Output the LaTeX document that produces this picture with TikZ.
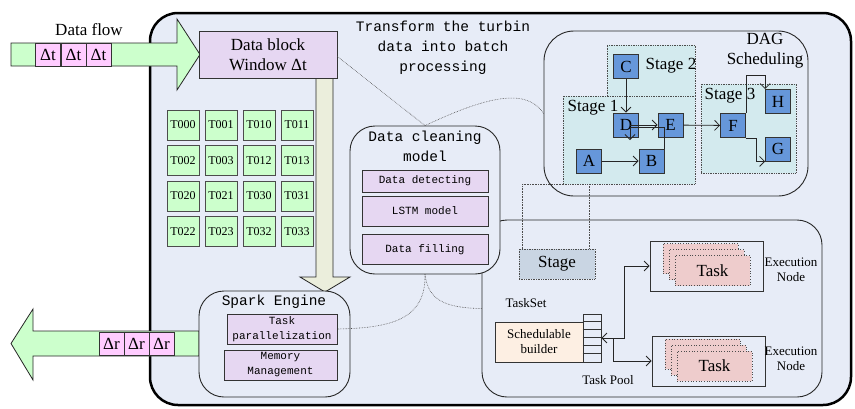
\documentclass[tikz,border=0pt]{standalone}
\usepackage{fontspec}
\setmainfont{Liberation Serif}
\setmonofont{Liberation Mono}
\usetikzlibrary{arrows.meta,positioning,calc}

\definecolor{bgblue}{RGB}{231,236,247}
\definecolor{flowgreen}{RGB}{204,255,204}
\definecolor{cellpink}{RGB}{255,204,255}
\definecolor{blocklilac}{RGB}{230,215,242}
\definecolor{downbeige}{RGB}{235,238,220}
\definecolor{stageteal}{RGB}{211,234,238}
\definecolor{dagblue}{RGB}{102,151,218}
\definecolor{stagegray}{RGB}{201,213,227}
\definecolor{builderpeach}{RGB}{253,239,227}
\definecolor{taskpink}{RGB}{238,204,204}

\tikzset{
  bigfont/.style={font=\fontsize{17}{20}\selectfont},
  smallfont/.style={font=\fontsize{13}{15}\selectfont},
  monofont/.style={font=\ttfamily\fontsize{14.5}{20}\selectfont},
  smallmono/.style={font=\ttfamily\fontsize{11}{15}\selectfont},
  box/.style={draw=black!80,line width=0.8pt,inner sep=1pt},
  container/.style={draw=black!85,line width=0.9pt,fill=bgblue,rounded corners=25pt},
  lilacbox/.style={box,fill=blocklilac,smallmono,align=center},
  dcell/.style={box,fill=cellpink,minimum width=25pt,minimum height=23pt,bigfont},
  tcell/.style={box,draw=black!70,fill=flowgreen,minimum width=32pt,minimum height=30pt,inner sep=0pt,font=\fontsize{12}{14}\selectfont},
  dagnode/.style={box,fill=dagblue,minimum width=25pt,minimum height=24pt,inner sep=0pt,bigfont},
  stagearea/.style={draw=gray!60!black,densely dotted,fill=stageteal,line width=0.7pt},
  tasksheet/.style={draw=black!70,dotted,fill=taskpink,line width=0.7pt,minimum width=75pt,minimum height=30pt,bigfont},
  dagarrow/.style={-{Straight Barb[length=5pt,width=10pt]},line width=0.8pt,draw=black!85},
  dotline/.style={densely dotted,draw=gray!60!black,line width=0.6pt}
}

\begin{document}
\begin{tikzpicture}[x=1pt,y=-1pt]
\useasboundingbox (0,0) rectangle (855,408);
% frame
\draw[line width=2.5pt,fill=bgblue,rounded corners=28pt] (150,13) rectangle (851,405);

% incoming data flow
\draw[fill=flowgreen,line width=0.8pt,draw=black!85] (11,43) -- (177,43) -- (177,19) -- (200,54.5) -- (177,90) -- (177,66) -- (11,66) -- cycle;
\foreach \k/\x in {1/48,2/73.5,3/98.5}{
  \node[dcell] (dt\k) at (\x,54.5) {Δt};}
\node[bigfont] (flowlbl) at (89,30) {Data flow};

% outgoing results
\draw[fill=flowgreen,line width=0.8pt,draw=black!85] (199,331) -- (33,331) -- (33,309) -- (11,343.5) -- (33,380) -- (33,356) -- (199,356) -- cycle;
\foreach \k/\x in {1/111.5,2/136.5,3/161.5}{
  \node[dcell] (dr\k) at (\x,343.5) {Δr};}

% batch into the engine
\draw[fill=downbeige,line width=0.8pt,draw=black!85] (316,78) -- (333,78) -- (333,277) -- (350,277) -- (325,292) -- (300,277) -- (316,277) -- cycle;
\node[box,fill=blocklilac,minimum width=138pt,minimum height=47pt,align=center,font=\fontsize{17}{20}\selectfont] (block) at (268,54.5) {Data block\\Window Δt};

% partitions
\foreach \lbl [count=\n from 0] in {T000,T001,T010,T011,T002,T003,T012,T013,T020,T021,T030,T031,T022,T023,T032,T033}{
  \pgfmathtruncatemacro{\c}{mod(\n,4)}
  \pgfmathtruncatemacro{\r}{div(\n,4)}
  \node[tcell] (\lbl) at (183+38*\c,125+35.5*\r) {\lbl};}

\node[monofont,align=center] (transform) at (443,48) {Transform the turbin\\data into batch\\processing};

% DAG scheduling
\node[container,rounded corners=30pt,minimum width=264pt,minimum height=165pt] (dag) at (676,113.5) {};
\node[bigfont,align=center] (daglbl) at (765,51) {DAG\\Scheduling};
\node[stagearea,minimum width=88pt,minimum height=51pt] (stagetwo) at (651,70.5) {};
\node[stagearea,minimum width=132pt,minimum height=88pt] (stageone) at (629,140) {};
\node[stagearea,minimum width=95pt,minimum height=89pt] (stagethree) at (748.5,128.5) {};
\node[bigfont] (s2lbl) at (671,66) {Stage 2};
\node[bigfont] (s1lbl) at (593,108) {Stage 1};
\node[bigfont] (s3lbl) at (730,96) {Stage 3};
\node[dagnode] (C) at (626,66.5) {C};
\node[dagnode] (D) at (626,125) {D};
\node[dagnode] (E) at (670.5,125) {E};
\node[dagnode] (A) at (589,161) {A};
\node[dagnode] (B) at (651.5,161) {B};
\node[dagnode] (F) at (733,125.5) {F};
\node[dagnode] (H) at (778,101.5) {H};
\node[dagnode] (G) at (778,149) {G};
\draw[dagarrow] (C) -- (D);
\draw[dagarrow] (A) -- (B);
\draw[dagarrow] ($(D.center)+(4,0)$) -- (E);
\draw[dagarrow] (B.north east) |- ($(D.center)+(4,2)$) -- ($(D.center)+(4,15)$);
\draw[dagarrow] (E) -- (F);
\draw[dagarrow] (F.north east) |- ($(H.north west)+(0,-14)$) -- (H.north west);
\draw[dagarrow] (F.south east) -- ++(10,0) |- (G.south west);

% task scheduler
\node[container,minimum width=340pt,minimum height=177pt] (sched) at (652,308.5) {};
\node[draw=gray!60!black,densely dotted,line width=0.7pt,fill=stagegray,minimum width=76pt,minimum height=30pt,bigfont] (stage) at (557,264) {Stage};
\draw[dotline] (stageone.south west) -| ([xshift=4pt]stage.north west);
\draw[dotline] ([xshift=-6pt]stage.north east) -- ([xshift=-6pt]stage.north east |- stageone.south);
\node[smallfont] (tasksetlbl) at (526,303) {TaskSet};
\node[box,fill=builderpeach,minimum width=88pt,minimum height=40pt,align=center,smallfont] (builder) at (539,342) {Schedulable\\builder};
\node[box,minimum width=18pt,minimum height=48pt] (pool) at (592,338) {};
\foreach \k in {1,...,5}
  \draw[line width=0.8pt,draw=black!80] ($(pool.north west)+(0,8*\k)$) -- ($(pool.north east)+(0,8*\k)$);
\node[smallfont] (poollbl) at (608,380) {Task Pool};
\node[box,minimum width=113pt,minimum height=50pt] (execone) at (706.5,266) {};
\node[box,minimum width=113pt,minimum height=50pt] (exectwo) at (708.5,361) {};
\foreach \k in {0,1}{
  \node[tasksheet] (upsheet\k) at (700.5+6*\k,258.5+6*\k) {};
  \node[tasksheet] (lowsheet\k) at (702.5+6*\k,354+6*\k) {};}
\node[tasksheet] (uptask) at (712.5,270.5) {Task};
\node[tasksheet] (lowtask) at (714.5,366) {Task};
\node[smallfont,align=center] (exonelbl) at (791,269.5) {Execution\\Node};
\node[smallfont,align=center] (extwolbl) at (791,359) {Execution\\Node};
\draw[dagarrow,{Straight Barb[length=5pt,width=10pt]}-{Straight Barb[length=5pt,width=10pt]}] (pool.east) -- ++(23,0) |- (execone.west);
\draw[dagarrow] ([xshift=12pt]pool.east) |- (exectwo.west);

% data cleaning
\node[container,minimum width=150pt,minimum height=148pt] (clean) at (425,200) {};
\node[monofont,align=center] (cleanlbl) at (425,146) {Data cleaning\\model};
\node[lilacbox,minimum width=126pt,minimum height=22pt] (detect) at (425,181) {Data detecting};
\node[lilacbox,minimum width=126pt,minimum height=30pt] (lstm) at (425,211) {LSTM model};
\node[lilacbox,minimum width=126pt,minimum height=30pt] (filling) at (425,249.5) {Data filling};

% spark engine
\node[container,minimum width=151pt,minimum height=106pt] (spark) at (274.5,344) {};
\node[monofont] (sparklbl) at (274,302) {Spark Engine};
\node[lilacbox,minimum width=110pt,minimum height=30pt] (taskpar) at (282,329) {Task\\parallelization};
\node[lilacbox,minimum width=113pt,minimum height=30pt] (memory) at (280.5,365) {Memory\\Management};

% dotted links
\draw[dotline] ([yshift=-2pt]block.east) -- (clean.north);
\draw[dotline] (clean.north) .. controls (480,100) and (525,85) .. (dag.west);
\draw[dotline] (clean.south) .. controls (426,320) and (390,328) .. (taskpar.east);
\draw[dotline] (clean.south) .. controls (428,300) and (445,308) .. (sched.west);
\end{tikzpicture}
\end{document}
